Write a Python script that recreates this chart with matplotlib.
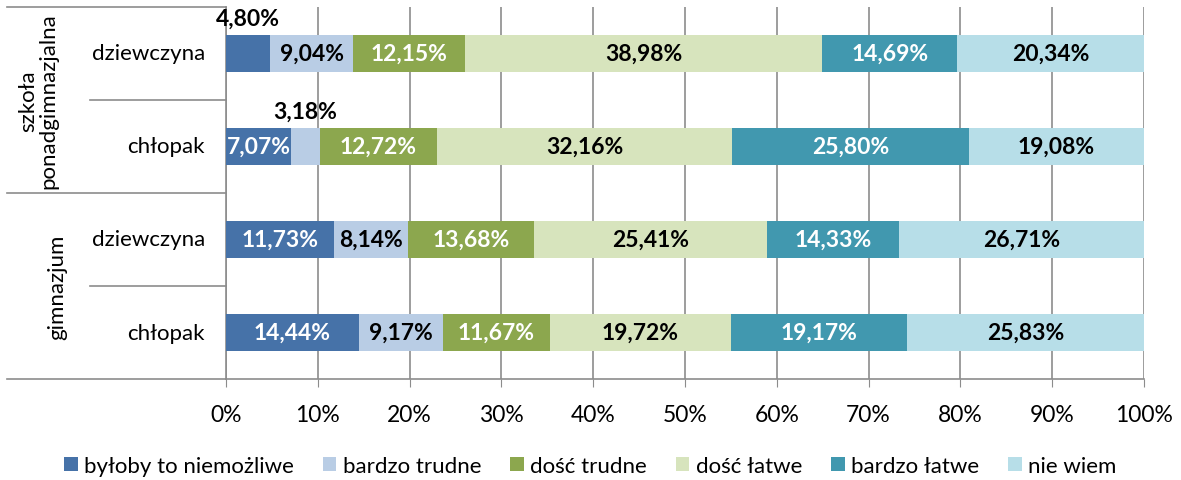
import numpy as np
import matplotlib.pyplot as plt
from matplotlib.lines import Line2D

plt.rcParams['font.family'] = ['Lato', 'DejaVu Sans']

rows = ['dziewczyna', 'chłopak', 'dziewczyna', 'chłopak']
groups = ['szkoła\nponadgimnazjalna', 'gimnazjum']
series = ['byłoby to niemożliwe', 'bardzo trudne', 'dość trudne',
          'dość łatwe', 'bardzo łatwe', 'nie wiem']
colors = ['#4672A8', '#B9CDE5', '#8CA74E', '#D7E4BD', '#4198AF', '#B7DEE8']
text_colors = ['white', 'black', 'white', 'black', 'white', 'black']

niemozliwe = [4.80, 7.07, 11.73, 14.44]
b_trudne = [9.04, 3.18, 8.14, 9.17]
d_trudne = [12.15, 12.72, 13.68, 11.67]
d_latwe = [38.98, 32.16, 25.41, 19.72]
b_latwe = [14.69, 25.80, 14.33, 19.17]
nie_wiem = [20.34, 19.08, 26.71, 25.83]
values = np.array([niemozliwe, b_trudne, d_trudne, d_latwe, b_latwe, nie_wiem])

W, H = 1181, 481
fig = plt.figure(figsize=(W / 100, H / 100), dpi=100)
x0, x1, yt, yb = 226, 1144, 8, 380
ax = fig.add_axes([x0 / W, 1 - yb / H, (x1 - x0) / W, (yb - yt) / H])

y = np.arange(len(rows))[::-1]
left = np.zeros(len(rows))
for i, name in enumerate(series):
    ax.barh(y, values[i], left=left, height=0.4, color=colors[i], label=name, zorder=3)
    for j in range(len(rows)):
        v = values[i][j]
        lbl = f'{v:.2f}%'.replace('.', ',')
        cx = left[j] + v / 2
        if v < 5:
            # too narrow for the label, put it over the bar
            ax.text(cx, y[j] + 0.27, lbl, ha='center', va='bottom', fontsize=16.5,
                    fontweight='bold', color='black', zorder=4)
        else:
            ax.text(cx, y[j], lbl, ha='center', va='center', fontsize=16.5,
                    fontweight='bold', color=text_colors[i], zorder=4)
    left += values[i]

ax.set_xlim(0, 100)
ax.set_ylim(-0.5, len(rows) - 0.5)
ax.set_xticks(np.arange(0, 101, 10))
ax.set_xticklabels([f'{t}%' for t in range(0, 101, 10)], fontsize=16.5)
ax.set_yticks([])
ax.grid(axis='x', color='#8c8c8c', linewidth=1.2, zorder=0)
for s in ['top', 'right']:
    ax.spines[s].set_visible(False)
for s in ['left', 'bottom']:
    ax.spines[s].set_color('#8c8c8c')
    ax.spines[s].set_linewidth(1.2)
ax.tick_params(axis='x', direction='out', length=6, color='#8c8c8c', pad=12)

# row labels and group brackets on the left
for j, r in enumerate(rows):
    ax.text(-2.3, y[j], r, ha='right', va='center', fontsize=16,
            transform=ax.transData, clip_on=False)

def hline(ypix, xstart):
    fig.add_artist(Line2D([xstart / W, x0 / W], [1 - ypix / H, 1 - ypix / H],
                          color='#8c8c8c', linewidth=1.2))

hline(yt, 7)
hline(194, 7)
hline(yb, 7)
hline(101, 90)
hline(287, 90)

fig.text(38 / W, 1 - 101 / H, groups[0], rotation=90, ha='center', va='center',
         fontsize=16, linespacing=1.0)
fig.text(57 / W, 1 - 287 / H, groups[1], rotation=90, ha='center', va='center',
         fontsize=16)

fig.legend(loc='center', bbox_to_anchor=(0.5, 1 - 467 / H), ncol=6, frameon=False,
           fontsize=16, handlelength=0.6, handleheight=0.6, handletextpad=0.3,
           columnspacing=1.3)

fig.savefig('out.png', dpi=100)
